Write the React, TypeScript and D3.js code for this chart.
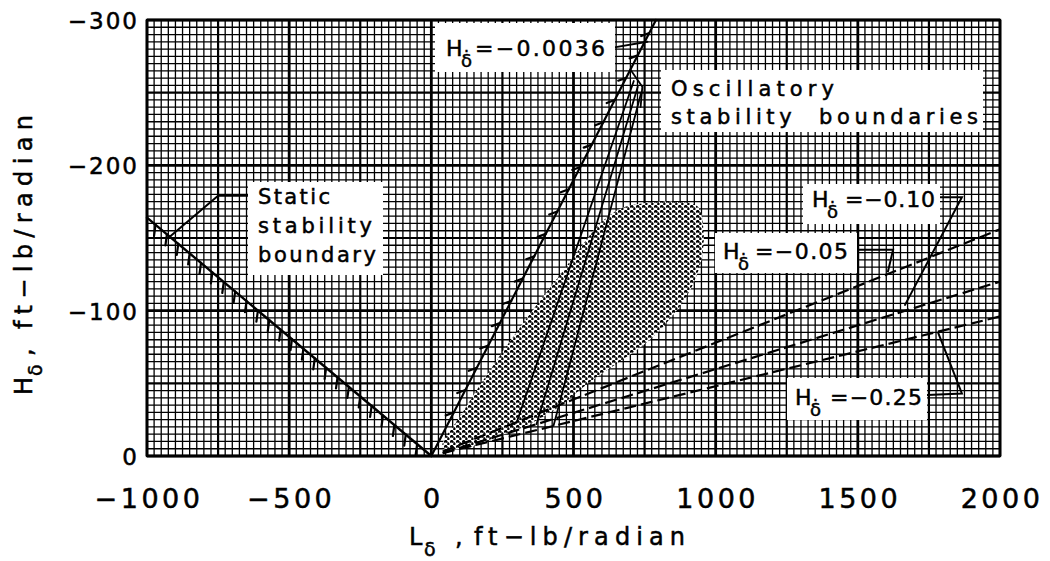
import * as d3 from "d3";

// ---- data (L_delta, H_delta) in ft-lb/radian ----
const xTicks = [-1000, -500, 0, 500, 1000, 1500, 2000];
const yTicks = [0, -100, -200, -300];
const xTickLabels = ["−1000", "−500", "0", "500", "1000", "1500", "2000"];
const yTickLabels = ["0", "−100", "−200", "−300"];

// static stability boundary
const staticBoundary: [number, number][] = [[0, 0], [-1000, -164]];
// oscillatory boundary, H_delta_dot = -0.0036
const oscBoundary0036: [number, number][] = [[0, 0], [790, -300]];
// steep solid parts of the other oscillatory boundaries
const steepLines: [number, number][][] = [
  [[300, -23], [712, -258]],
  [[370, -22], [726, -254]],
  [[430, -21], [738, -250]],
];
const topHook: [number, number][] = [[700, -266], [742, -254], [736, -240]];
// dashed parts: -0.05, -0.10, -0.25
const dashedLines: [number, number][][] = [
  [[40, -3], [2000, -156]],
  [[40, -2], [2000, -120]],
  [[40, -2], [2000, -96]],
];
// shaded (stippled) region
const shadedRegion: [number, number][] = [
  [40, -6], [110, -30], [220, -63], [340, -96], [450, -124], [523, -143],
  [593, -160], [664, -170], [752, -174], [850, -175], [935, -172], [956, -158],
  [952, -137], [910, -114], [846, -96], [769, -80], [671, -66], [558, -51],
  [435, -32], [312, -19], [228, -13], [136, -6],
];
// label leader lines
const leaders: [number, number][][] = [
  [[-627, -179], [-750, -179], [-919, -151]],
  [[638, -281], [760, -285]],
  [[1497, -142], [1624, -142], [1606, -127]],
  [[1790, -178], [1866, -178], [1666, -104]],
  [[1744, -42], [1866, -43], [1782, -85]],
];

const hdotLabels = [
  { value: "=−0.0036", box: [435, 23, 180, 49], hx: 446, y: 56, vx: 475, vw: 130 },
  { value: "=−0.05", box: [715, 233, 142, 40], hx: 723, y: 259, vx: 755, vw: 93 },
  { value: "=−0.10", box: [803, 184, 137, 40], hx: 812, y: 207, vx: 845, vw: 90 },
  { value: "=−0.25", box: [787, 378, 140, 42], hx: 795, y: 405, vx: 830, vw: 92 },
];

const FONT = "DejaVu Sans, sans-serif";

export default function App() {
  const width = 1050, height = 561;
  const x = d3.scaleLinear().domain([-1000, 2000]).range([147, 1000]);
  const y = d3.scaleLinear().domain([0, -300]).range([456, 20]);
  const line = d3.line<[number, number]>().x(d => x(d[0])).y(d => y(d[1]));
  const blob = d3.line<[number, number]>().x(d => x(d[0])).y(d => y(d[1])).curve(d3.curveCatmullRomClosed);

  const gx = d3.range(-1000, 2001, 25);
  const gy = d3.range(0, -301, -5);
  const vw = (v: number) => (v % 500 === 0 ? 2.8 : v % 250 === 0 ? 2.2 : 1.3);
  const hw = (v: number) => (v % 100 === 0 ? 2.8 : v % 50 === 0 ? 2.2 : 1.3);

  // hatch ticks along a boundary (pixel space)
  const hatch = (pts: [number, number][], n: number, t0: number, t1: number, dx: number, dy: number) => {
    const [a, b] = pts;
    const ax = x(a[0]), ay = y(a[1]), bx = x(b[0]), by = y(b[1]);
    return d3.range(n).map(i => {
      const t = t0 + (t1 - t0) * (i / (n - 1));
      const px = ax + (bx - ax) * t, py = ay + (by - ay) * t;
      return `M${px},${py}l${dx},${dy}`;
    }).join("");
  };

  const ink = { fill: "#000", stroke: "#000", strokeWidth: 0.5 };

  return (
    <svg width={width} height={height} style={{ position: "absolute", left: 0, top: 0, background: "#fff" }}
      fontFamily={FONT}>
      <defs>
        <pattern id="stip" width="6" height="5" patternUnits="userSpaceOnUse">
          <rect width="6" height="5" fill="#fff" />
          <path d="M0.3,2.6 L1.7,0.4 L3.1,2.6" stroke="#000" strokeWidth="1.9" fill="none" />
          <path d="M3.4,2.6 q2.6,1.2 0,2.4" stroke="#000" strokeWidth="1.9" fill="none" />
        </pattern>
      </defs>
      <rect width={width} height={height} fill="#fff" />

      {/* graph paper */}
      <g stroke="#000">
        {gx.map(v => (
          <line key={"gx" + v} x1={x(v)} x2={x(v)} y1={y(0)} y2={y(-300)} strokeWidth={vw(v)} />
        ))}
        {gy.map(v => (
          <line key={"gy" + v} x1={x(-1000)} x2={x(2000)} y1={y(v)} y2={y(v)} strokeWidth={hw(v)} />
        ))}
      </g>

      {/* stippled region */}
      <path d={blob(shadedRegion) || ""} fill="url(#stip)" stroke="none" />

      {/* boundaries */}
      <g fill="none" stroke="#000" strokeLinecap="round">
        <path d={line(staticBoundary) || ""} strokeWidth={2.4} />
        <path d={hatch(staticBoundary, 24, 0.05, 0.97, -1.5, 11)} strokeWidth={2.2} />
        <path d={line(oscBoundary0036) || ""} strokeWidth={2.2} />
        <path d={hatch(oscBoundary0036, 18, 0.1, 0.97, -8, 3)} strokeWidth={2.2} />
        {steepLines.map((l, i) => (
          <path key={"s" + i} d={line(l) || ""} strokeWidth={1.8} />
        ))}
        <path d={line(topHook) || ""} strokeWidth={1.8} />
        {dashedLines.map((l, i) => (
          <path key={"d" + i} d={line(l) || ""} strokeWidth={2.2} strokeDasharray="12,5" strokeLinecap="butt" />
        ))}
        {leaders.map((l, i) => (
          <path key={"l" + i} d={line(l) || ""} strokeWidth={2} />
        ))}
      </g>

      {/* frame */}
      <rect x={x(-1000)} y={y(-300)} width={x(2000) - x(-1000)} height={y(0) - y(-300)}
        fill="none" stroke="#000" strokeWidth={2.4} />

      {/* annotation boxes */}
      <rect x={248} y={182} width={135} height={93} fill="#fff" />
      <g fontSize={21} {...ink} lengthAdjust="spacing">
        <text x={258} y={204} textLength={72}>Static</text>
        <text x={258} y={233} textLength={114}>stability</text>
        <text x={258} y={262} textLength={118}>boundary</text>
      </g>
      <rect x={661} y={70} width={322} height={62} fill="#fff" />
      <g fontSize={21} {...ink}>
        <text x={671} y={96} textLength={163} lengthAdjust="spacing">Oscillatory</text>
        <text x={671} y={124} textLength={307} lengthAdjust="spacing" xmlSpace="preserve">stability  boundaries</text>
      </g>
      {hdotLabels.map(d => (
        <g key={d.value} {...ink}>
          <rect x={d.box[0]} y={d.box[1]} width={d.box[2]} height={d.box[3]} fill="#fff" stroke="none" />
          <text x={d.hx} y={d.y} fontSize={22}>H</text>
          <text x={d.hx + 15} y={d.y + 11} fontSize={18}>δ̇</text>
          <text x={d.vx} y={d.y} fontSize={22} textLength={d.vw} lengthAdjust="spacing">{d.value}</text>
        </g>
      ))}

      {/* tick labels */}
      <g fontSize={27} letterSpacing={3.5} textAnchor="middle" {...ink}>
        {xTicks.map((v, i) => (
          <text key={"xt" + v} x={x(v) + 2} y={508}>{xTickLabels[i]}</text>
        ))}
      </g>
      <g fontSize={23} letterSpacing={2} textAnchor="end" {...ink}>
        {yTicks.map((v, i) => (
          <text key={"yt" + v} x={139} y={y(v) + 9}>{yTickLabels[i]}</text>
        ))}
      </g>

      {/* axis titles */}
      <g fontSize={24} {...ink}>
        <text x={409} y={545}>L</text>
        <text x={424} y={556} fontSize={19}>δ</text>
        <text x={455} y={545}>,</text>
        <text x={474} y={545} textLength={211} lengthAdjust="spacing">ft−lb/radian</text>
      </g>
      <g fontSize={24} {...ink} transform="translate(32,0) rotate(-90)">
        <text x={-395} y={0}>H</text>
        <text x={-376} y={10} fontSize={19}>δ</text>
        <text x={-356} y={0}>,</text>
        <text x={-329} y={0} textLength={214} lengthAdjust="spacing">ft−lb/radian</text>
      </g>
    </svg>
  );
}
